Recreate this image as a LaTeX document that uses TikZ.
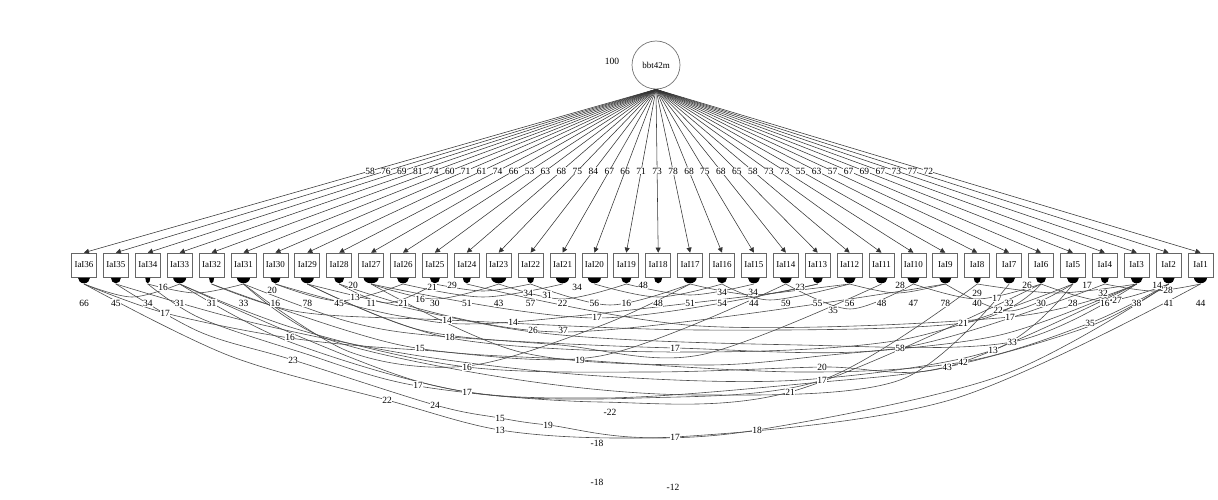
\documentclass[tikz,border=0pt]{standalone}
\usepackage{fontspec}
\setmainfont{Liberation Serif}
\usetikzlibrary{arrows.meta}
\tikzset{
  box/.style={draw=black!60,fill=white,line width=0.7pt,minimum width=25pt,minimum height=24pt,inner sep=0pt,font=\fontsize{9}{10}\selectfont},
  rootnode/.style={circle,draw=black!55,line width=0.7pt,minimum size=48pt,inner sep=0pt,font=\fontsize{9}{10}\selectfont},
  fan/.style={draw=black!80,line width=0.55pt,-{Triangle[length=5pt,width=5pt]}},
  fanlbl/.style={fill=white,inner sep=0.3pt,font=\fontsize{9.5}{10}\selectfont},
  lbl/.style={fill=white,inner sep=0.4pt,font=\fontsize{9.5}{10}\selectfont},
  lk/.style={draw=black!70,line width=0.6pt},
  blob/.style={fill=black},
}
\newcommand\lnk[1]{\draw[lk] plot[smooth,tension=0.55] coordinates {#1};}
\begin{document}
\begin{tikzpicture}[x=1pt,y=-1pt]
\useasboundingbox (0,0) rectangle (1218,500);
\node[rootnode] (root) at (656,65) {bbt42m};
\node[font=\fontsize{9.5}{10}\selectfont] (rootval) at (612,61) {100};
% boxes and ports
\foreach \i in {1,...,36}{
  \node[box] (b\i) at ({84+(36-\i)*31.9},265) {IaI\i};
  \coordinate (t\i) at ({84+(36-\i)*31.9},284);
}
% fan edges from root
\foreach \i/\v in {36/58,35/76,34/69,33/81,32/74,31/60,30/71,29/61,28/74,27/66,26/53,25/63,24/68,23/75,22/84,21/67,20/66,19/71,18/73,17/78,16/68,15/75,14/68,13/65,12/58,11/73,10/73,9/55,8/63,7/57,6/67,5/69,4/67,3/73,2/77,1/72}{
  \draw[fan] (root.south) -- node[fanlbl,pos=0.5] {\v} (b\i.north);
}
% long lower links
\lnk{(t36) (165,313) (290,338) (420,350) (600,356) (t14)}
\lnk{(t36) (230,356) (387,400) (500,430) (620,438) (757,430) (1000,376) (t2)}
\lnk{(t35) (200,332) (293,360) (435,405) (500,418) (548,425) (675,437) (950,400) (t1)}
\lnk{(t34) (200,318) (300,352) (418,386) (600,402) (790,392) (t6)}
\lnk{(t33) (290,342) (467,392) (640,398) (822,380) (t8)}
\lnk{(t33) (300,330) (467,367) (650,372) (822,367) (947,367) (t3)}
\lnk{(t32) (300,312) (447,320) (700,330) (963,323) (t6)}
\lnk{(t31) (350,322) (450,337) (675,348) (900,348) (t4)}
\lnk{(t30) (400,316) (513,322) (t12)}
\lnk{(t29) (533,332) (800,345) (1012,342) (t3)}
\lnk{(t28) (563,332) (t9)}
\lnk{(t27) (597,318) (t13)}
\lnk{(t32) (400,345) (580,360) (800,372) (963,362) (1090,323) (t2)}
\lnk{(t24) (700,326) (1010,317) (t3)}
\lnk{(t35) (250,322) (420,356) (600,376) (800,380) (993,350) (t5)}
\lnk{(t5) (900,340) (675,352) (450,338) (t29)}
\lnk{(t17) (600,326) (467,366) (350,352) (t31)}
\lnk{(t2) (1090,326) (947,367) (822,382) (600,398) (420,382) (t33)}
\lnk{(t31) (330,340) (520,380) (700,395) (900,380) (t7)}
\lnk{(t29) (420,330) (560,345) (700,355) (t11)}
\lnk{(t3) (1000,335) (830,355) (700,365) (520,352) (t27)}
% short lower links
\lnk{(t30) (339,301) (t26)}
\lnk{(t28) (387,303) (t25)}
\lnk{(t27) (435,299) (t23)}
\lnk{(t26) (483,297) (t21)}
\lnk{(t23) (562,299) (t19)}
\lnk{(t22) (610,305) (t17)}
\lnk{(t19) (690,295) (t15)}
\lnk{(t17) (754,295) (t13)}
\lnk{(t14) (850,309) (t10)}
\lnk{(t12) (897,293) (t9)}
\lnk{(t10) (977,299) (t6)}
\lnk{(t8) (1057,293) (t3)}
\lnk{(t6) (1105,301) (t2)}
\lnk{(t4) (1153,291) (t1)}
\lnk{(t9) (1009,311) (t5)}
\lnk{(t34) (196,293) (t31)}
\lnk{(t36) (132,297) (t33)}
\lnk{(t20) (658,297) (t16)}
\lnk{(t25) (483,291) (t22)}
\lnk{(t16) (770,300) (t12)}
% port blobs (merged arrow heads)
\foreach \i/\h in {36/6,35/5,34/2.5,33/6.5,32/2.5,31/6.5,30/5,29/6.5,28/5,27/7.5,26/6,25/5,24/4,23/7.5,22/3.5,21/6.5,20/6.5,19/5,18/4,17/6.5,16/5,15/6,14/6,13/5,12/6,11/6,10/6,9/6,8/3.5,7/6,6/5,5/6,4/4,3/6,2/6,1/6.5}{
  \pgfmathsetmacro\xx{84+(36-\i)*31.9-\h}
  \fill[blob] (\xx,277.8) arc[start angle=180,end angle=360,x radius=\h pt,y radius=5.5pt] -- cycle;
}
% values under boxes
\foreach \i/\v in {36/66,35/45,34/34,33/31,32/31,31/33,30/16,29/78,28/45,27/11,26/21,25/30,24/51,23/43,22/57,21/22,20/56,19/16,18/48,17/51,16/54,15/44,14/59,13/55,12/56,11/48,10/47,9/78,8/40,7/32,6/30,5/28,4/16,3/38,2/41,1/44}{
  \node[lbl] (v\i) at ({84+(36-\i)*31.9},303) {\v};
}
% link labels
\foreach \n/\x/\y/\t in {1/163/287/16,2/272/290/20,3/353/285/20,4/355/297/13,5/432/287/21,6/420/299/16,7/452/285/29,8/528/293/34,9/547/295/31,10/577/287/34,11/643/285/48,12/722/292/34,13/753/292/34,14/800/287/23,15/833/310/35,16/900/285/28,17/977/293/29,18/997/298/17,19/1027/285/26,20/1087/285/17,21/1117/300/27,22/1103/293/32,23/1157/285/14,24/1168/290/28,25/998/310/22,26/165/313/17,27/447/320/14,28/513/322/14,29/533/330/26,30/563/330/37,31/597/317/17,32/450/337/18,33/290/337/16,34/420/348/15,35/675/348/17,36/293/360/23,37/580/360/19,38/467/367/16,39/963/323/21,40/1010/317/17,41/1090/323/35,42/900/348/58,43/1012/342/33,44/993/350/13,45/822/367/20,46/822/380/17,47/947/367/43,48/963/362/42,49/418/385/17,50/467/392/17,51/790/392/21,52/387/400/22,53/435/405/24,54/610/412/-22,55/500/418/15,56/500/430/13,57/548/425/19,58/597/443/-18,59/675/437/17,60/757/430/18,61/597/482/-18,62/673/487/-12}{
  \node[lbl] (e\n) at (\x,\y) {\t};
}
\end{tikzpicture}
\end{document}
